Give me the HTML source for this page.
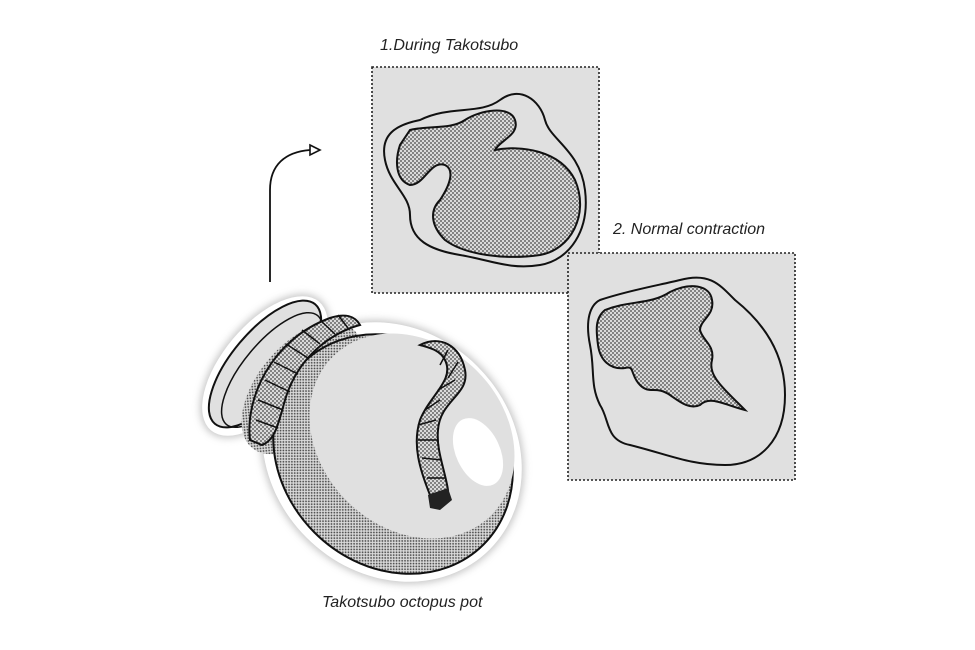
<!DOCTYPE html>
<html><head><style>
html,body{margin:0;padding:0;background:#fff;}
svg{display:block;}
text{font-family:"Liberation Sans",sans-serif;font-style:italic;font-size:16px;fill:#222;}
</style></head><body>
<svg width="975" height="650" viewBox="0 0 975 650" xmlns="http://www.w3.org/2000/svg">
<defs>
<pattern id="dots" width="4" height="4" patternUnits="userSpaceOnUse">
<rect width="4" height="4" fill="#dadada"/>
<circle cx="1" cy="1" r="0.9" fill="#444"/><circle cx="3" cy="3" r="0.9" fill="#444"/>
</pattern>
<filter id="sh" x="-20%" y="-20%" width="140%" height="140%"><feGaussianBlur stdDeviation="4"/></filter>
</defs>

<text x="380" y="50">1.During Takotsubo</text>
<text x="613" y="234">2. Normal contraction</text>
<text x="322" y="607">Takotsubo octopus pot</text>

<!-- Box 1 -->
<rect x="372" y="67" width="227" height="226" fill="#e0e0e0" stroke="#222" stroke-width="1.6" stroke-dasharray="2,2"/>
<path d="M420,120 C450,105 480,115 500,100 C520,85 540,100 545,120 C550,140 580,150 585,190 C590,230 570,260 540,265 C510,270 490,260 460,255 C430,250 410,240 410,215 C410,195 390,185 385,160 C380,135 395,125 420,120Z" fill="#e0e0e0" stroke="#111" stroke-width="2"/>
<path d="M410,130 C430,125 450,130 465,120 C480,110 510,105 515,120 C520,135 500,140 495,150 C520,145 560,150 575,180 C590,215 570,250 540,255 C505,260 465,255 445,240 C430,225 430,210 440,200 C450,185 455,170 445,165 C430,160 425,185 410,185 C395,180 395,160 400,145 Z" fill="url(#dots)" stroke="#111" stroke-width="2"/>

<!-- Box 2 -->
<rect x="568" y="253" width="227" height="227" fill="#e0e0e0" stroke="#222" stroke-width="1.6" stroke-dasharray="2,2"/>
<path d="M600,300 C630,290 660,285 680,280 C710,272 720,285 735,300 C760,320 785,350 785,395 C785,440 760,465 725,465 C690,465 670,455 630,445 C605,440 610,420 600,405 C590,385 595,370 590,345 C585,320 590,305 600,300Z" fill="#e0e0e0" stroke="#111" stroke-width="2"/>
<path d="M605,310 C630,300 650,305 670,292 C690,282 710,285 712,300 C715,315 700,320 700,330 C702,340 715,345 712,360 C708,375 720,385 745,410 C725,405 710,395 700,405 C690,410 680,402 670,395 C655,385 650,395 640,385 C630,375 635,365 625,368 C610,370 600,360 598,345 C596,330 595,318 605,310Z" fill="url(#dots)" stroke="#111" stroke-width="2"/>

<!-- Arrow -->
<path d="M270,282 L270,190 C270,165 285,152 310,150" fill="none" stroke="#111" stroke-width="1.8"/>
<path d="M310,145 L320,150 L310,155 Z" fill="#fff" stroke="#111" stroke-width="1.6"/>

<!-- Pot shadow/outline -->
<g filter="url(#sh)" opacity="0.5">
<ellipse cx="392" cy="452" rx="140" ry="123" transform="rotate(45 392 452)" fill="#888"/>
<ellipse cx="265" cy="366" rx="44" ry="86" transform="rotate(40 265 366)" fill="#888"/>
</g>
<ellipse cx="392" cy="452" rx="138" ry="121" transform="rotate(45 392 452)" fill="#fff"/>
<ellipse cx="265" cy="366" rx="42" ry="84" transform="rotate(40 265 366)" fill="#fff"/>
<!-- lip -->
<ellipse cx="265" cy="364" rx="33" ry="78" transform="rotate(40 265 364)" fill="#e0e0e0" stroke="#111" stroke-width="2"/>
<ellipse cx="272" cy="370" rx="28" ry="71" transform="rotate(40 272 370)" fill="none" stroke="#111" stroke-width="1.5"/>
<!-- neck -->
<ellipse cx="302" cy="388" rx="44" ry="78" transform="rotate(40 302 388)" fill="url(#dots)"/>
<!-- body -->
<ellipse cx="393" cy="454" rx="128" ry="111" transform="rotate(45 393 454)" fill="url(#dots)" stroke="#111" stroke-width="2"/>
<ellipse cx="412" cy="436" rx="112" ry="92" transform="rotate(45 412 436)" fill="#e0e0e0"/>
<ellipse cx="478" cy="452" rx="22" ry="36" transform="rotate(-25 478 452)" fill="#fff"/>
<!-- rope around neck -->
<path d="M250,440 C245,400 270,340 330,318 C345,313 355,316 360,325 C340,330 300,350 285,400 C278,425 275,440 262,445 Z" fill="url(#dots)" stroke="#111" stroke-width="2"/>
<g stroke="#111" stroke-width="1.5" fill="none">
<path d="M256,420 L278,428"/><path d="M258,400 L283,410"/><path d="M265,380 L290,392"/><path d="M274,362 L298,374"/><path d="M286,344 L308,358"/><path d="M302,330 L320,344"/><path d="M320,320 L335,334"/><path d="M338,315 L348,328"/>
</g>
<!-- hanging rope -->
<path d="M420,345 C440,335 460,345 465,370 C470,395 440,400 438,430 C436,450 445,470 448,490 L430,495 C420,470 412,445 420,420 C430,395 455,380 445,360 C440,350 430,348 420,345Z" fill="url(#dots)" stroke="#111" stroke-width="2"/>
<g stroke="#111" stroke-width="1.5" fill="none">
<path d="M448,350 L440,365"/><path d="M458,362 L448,378"/><path d="M455,380 L438,390"/><path d="M440,400 L425,410"/><path d="M436,420 L418,425"/><path d="M438,440 L418,440"/><path d="M442,460 L422,458"/><path d="M446,478 L427,478"/>
</g>
<path d="M428,495 L448,488 L452,500 L440,510 L430,508 Z" fill="#222"/>
</svg>
</body></html>
